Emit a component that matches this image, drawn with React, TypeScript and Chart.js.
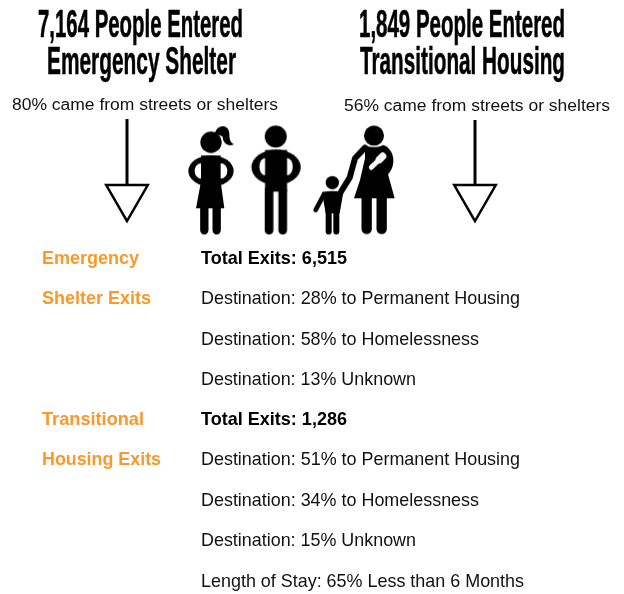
import React, { useEffect, useRef } from "react";
import { Chart, registerables } from "chart.js";

Chart.register(...registerables);

const headlineLeft = ["7,164 People Entered", "Emergency Shelter"];
const headlineRight = ["1,849 People Entered", "Transitional Housing"];
const cameFrom = ["80% came from streets or shelters", "56% came from streets or shelters"];
const shelterTitle = ["Emergency", "Shelter Exits"];
const transitionalTitle = ["Transitional", "Housing Exits"];
const shelterRows = [
  "Total Exits: 6,515",
  "Destination: 28% to Permanent Housing",
  "Destination: 58% to Homelessness",
  "Destination: 13% Unknown",
];
const transitionalRows = [
  "Total Exits: 1,286",
  "Destination: 51% to Permanent Housing",
  "Destination: 34% to Homelessness",
  "Destination: 15% Unknown",
  "Length of Stay: 65% Less than 6 Months",
];

type Item = { text: string; x: number; y: number; w: number; font: string; color: string; heavy?: boolean };
const HEAD = "bold 39px 'Liberation Sans'";
const SUB = "16px 'Liberation Sans'";
const BODY = "18.5px 'Liberation Sans'";
const BOLD = "bold 18.5px 'Liberation Sans'";
const ORANGE = "#f9982b";

const items: Item[] = [
  { text: headlineLeft[0], x: 38, y: 37, w: 205, font: HEAD, color: "#000", heavy: true },
  { text: headlineLeft[1], x: 47, y: 74, w: 189, font: HEAD, color: "#000", heavy: true },
  { text: headlineRight[0], x: 359, y: 37, w: 206, font: HEAD, color: "#000", heavy: true },
  { text: headlineRight[1], x: 360, y: 74, w: 205, font: HEAD, color: "#000", heavy: true },
  { text: cameFrom[0], x: 12, y: 110, w: 266, font: SUB, color: "#111" },
  { text: cameFrom[1], x: 344, y: 111, w: 266, font: SUB, color: "#111" },
  { text: shelterTitle[0], x: 42, y: 264, w: 97, font: BOLD, color: ORANGE },
  { text: shelterTitle[1], x: 42, y: 304, w: 109, font: BOLD, color: ORANGE },
  { text: transitionalTitle[0], x: 42, y: 425, w: 102, font: BOLD, color: ORANGE },
  { text: transitionalTitle[1], x: 42, y: 465, w: 119, font: BOLD, color: ORANGE },
  { text: shelterRows[0], x: 201, y: 264, w: 146, font: BOLD, color: "#000" },
  { text: shelterRows[1], x: 201, y: 304, w: 319, font: BODY, color: "#111" },
  { text: shelterRows[2], x: 201, y: 345, w: 278, font: BODY, color: "#111" },
  { text: shelterRows[3], x: 201, y: 385, w: 215, font: BODY, color: "#111" },
  { text: transitionalRows[0], x: 201, y: 425, w: 146, font: BOLD, color: "#000" },
  { text: transitionalRows[1], x: 201, y: 465, w: 319, font: BODY, color: "#111" },
  { text: transitionalRows[2], x: 201, y: 506, w: 278, font: BODY, color: "#111" },
  { text: transitionalRows[3], x: 201, y: 546, w: 215, font: BODY, color: "#111" },
  { text: transitionalRows[4], x: 201, y: 587, w: 323, font: BODY, color: "#111" },
];

function icon(wide: number, cx: number, draw: (c: CanvasRenderingContext2D) => void) {
  const cv = document.createElement("canvas");
  cv.width = wide;
  cv.height = 120;
  const c = cv.getContext("2d")!;
  c.scale(1 / 3, 1 / 3);
  c.translate((wide * 3) / 2 - cx, 180 - 190);
  c.fillStyle = "#000";
  c.strokeStyle = "#000";
  c.lineCap = "round";
  c.lineJoin = "round";
  draw(c);
  return cv;
}
const dot = (c: CanvasRenderingContext2D, x: number, y: number, r: number) => {
  c.beginPath();
  c.arc(x, y, r, 0, Math.PI * 2);
  c.fill();
};
const seg = (c: CanvasRenderingContext2D, lw: number, pts: number[]) => {
  c.lineWidth = lw;
  c.beginPath();
  c.moveTo(pts[0], pts[1]);
  for (let i = 2; i < pts.length; i += 2) c.lineTo(pts[i], pts[i + 1]);
  c.stroke();
};
const oval = (c: CanvasRenderingContext2D, x: number, y: number, rx: number, ry: number, color: string) => {
  c.fillStyle = color;
  c.beginPath();
  c.ellipse(x, y, rx, ry, 0, 0, Math.PI * 2);
  c.fill();
  c.fillStyle = "#000";
};

const drawGirl = (c: CanvasRenderingContext2D) => {
  dot(c, 333, 82, 32);
  c.beginPath();
  c.moveTo(345, 55);
  c.bezierCurveTo(350, 30, 385, 25, 388, 55);
  c.bezierCurveTo(388, 72, 390, 82, 402, 88);
  c.bezierCurveTo(385, 97, 368, 85, 368, 65);
  c.closePath();
  c.fill();
  oval(c, 333, 168, 68, 47, "#000");
  oval(c, 303, 168, 19, 23, "#fff");
  oval(c, 363, 168, 19, 23, "#fff");
  c.beginPath();
  c.moveTo(303, 122);
  c.lineTo(362, 122);
  c.lineTo(362, 200);
  c.lineTo(373, 280);
  c.lineTo(288, 280);
  c.lineTo(303, 200);
  c.closePath();
  c.fill();
  seg(c, 25, [313, 275, 313, 346]);
  seg(c, 25, [350, 275, 350, 346]);
};
const drawBoy = (c: CanvasRenderingContext2D) => {
  dot(c, 527, 65, 33);
  oval(c, 528, 157, 74, 53, "#000");
  oval(c, 495, 155, 17, 26, "#fff");
  oval(c, 561, 155, 17, 26, "#fff");
  c.fillRect(495, 105, 66, 125);
  seg(c, 26, [507, 225, 507, 346]);
  seg(c, 26, [548, 225, 548, 346]);
};
const drawFamily = (c: CanvasRenderingContext2D) => {
  dot(c, 222, 62, 30);
  c.beginPath();
  c.moveTo(195, 90);
  c.quadraticCurveTo(222, 103, 250, 90);
  c.bezierCurveTo(282, 100, 292, 150, 264, 178);
  c.lineTo(284, 250);
  c.lineTo(162, 250);
  c.lineTo(180, 195);
  c.lineTo(195, 130);
  c.closePath();
  c.fill();
  seg(c, 18, [195, 98, 165, 130, 149, 188, 122, 232]);
  seg(c, 31, [200, 245, 200, 342]);
  seg(c, 31, [245, 245, 245, 342]);
  c.strokeStyle = "#fff";
  seg(c, 15, [214, 157, 236, 136]);
  seg(c, 22, [238, 134, 248, 124]);
  c.strokeStyle = "#000";
  dot(c, 97, 203, 20);
  c.beginPath();
  c.moveTo(66, 232);
  c.quadraticCurveTo(97, 224, 130, 232);
  c.lineTo(119, 295);
  c.lineTo(77, 295);
  c.closePath();
  c.fill();
  seg(c, 14, [72, 238, 47, 285]);
  seg(c, 18, [86, 285, 86, 350]);
  seg(c, 18, [109, 285, 109, 350]);
};

const textPlugin = {
  id: "texts",
  afterDatasetsDraw(chart: any) {
    const { ctx, scales } = chart;
    ctx.save();
    ctx.textBaseline = "alphabetic";
    ctx.textAlign = "left";
    for (const t of items) {
      ctx.font = t.font;
      ctx.fillStyle = t.color;
      const natural = ctx.measureText(t.text).width;
      ctx.save();
      ctx.translate(scales.x.getPixelForValue(t.x), scales.y.getPixelForValue(t.y));
      ctx.scale(t.w / natural, 1);
      if (t.heavy) {
        ctx.strokeStyle = t.color;
        ctx.lineWidth = 0.6;
        ctx.lineJoin = "round";
        ctx.strokeText(t.text, 0, 0);
      }
      ctx.fillText(t.text, 0, 0);
      ctx.restore();
    }
    ctx.restore();
  },
};

export default function App() {
  const ref = useRef<HTMLCanvasElement>(null);
  useEffect(() => {
    const chart = new Chart(ref.current!, {
      type: "scatter",
      data: {
        datasets: [
          {
            data: [{ x: 127, y: 119 }, { x: 127, y: 186 }],
            showLine: true,
            borderColor: "#000",
            borderWidth: 3,
            pointRadius: 0,
          },
          {
            data: [{ x: 475, y: 120 }, { x: 475, y: 186 }],
            showLine: true,
            borderColor: "#000",
            borderWidth: 3,
            pointRadius: 0,
          },
          {
            data: [{ x: 127, y: 197 }, { x: 475, y: 197 }],
            pointStyle: "triangle",
            rotation: 180,
            pointRadius: 24,
            backgroundColor: "#fff",
            borderColor: "#000",
            borderWidth: 2.5,
          },
          {
            data: [{ x: 211, y: 178.3 }],
            pointStyle: icon(60, 333, drawGirl) as any,
          },
          {
            data: [{ x: 275.7, y: 178.3 }],
            pointStyle: icon(60, 527, drawBoy) as any,
          },
          {
            data: [{ x: 355, y: 178.3 }],
            pointStyle: icon(100, 165, drawFamily) as any,
          },
        ],
      },
      options: {
        animation: false,
        responsive: false,
        layout: { padding: 0, autoPadding: false },
        scales: {
          x: { type: "linear", display: false, min: 0, max: 624 },
          y: { type: "linear", display: false, min: 0, max: 594, reverse: true },
        },
        plugins: { legend: { display: false }, tooltip: { enabled: false } },
      },
      plugins: [textPlugin],
    });
    return () => chart.destroy();
  }, []);
  return (
    <div style={{ position: "absolute", left: 0, top: 0, width: 624, height: 594 }}>
      <canvas ref={ref} width={624} height={594} style={{ display: "block" }} />
    </div>
  );
}
